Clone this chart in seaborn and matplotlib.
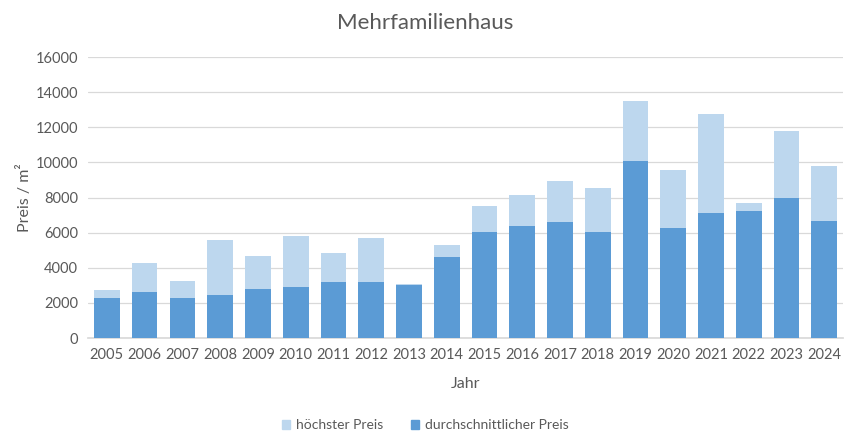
import pandas as pd
import matplotlib.pyplot as plt
import seaborn as sns
from matplotlib.patches import Patch

years = [str(y) for y in range(2005, 2025)]
hoechster_preis = [2750, 4300, 3250, 5600, 4700, 5800, 4850, 5700, 3100, 5300,
                   7500, 8150, 8950, 8550, 13500, 9550, 12750, 7700, 11800, 9800]
durchschnitt_preis = [2300, 2600, 2300, 2450, 2800, 2900, 3200, 3200, 3000, 4600,
                      6050, 6400, 6600, 6050, 10100, 6250, 7100, 7250, 8000, 6650]

df = pd.DataFrame({'Jahr': years, 'hoch': hoechster_preis, 'mittel': durchschnitt_preis})

light = '#BDD7EE'
dark = '#5B9BD5'
txt = '#595959'

sns.set_theme(style="white")
plt.rcParams['font.family'] = ['Lato', 'DejaVu Sans']

fig = plt.figure(figsize=(8.5, 4.43), dpi=100)
ax = fig.add_axes([0.1035, 0.237, 0.8885, 0.634])

# overlapping bars: highest price behind, average in front
sns.barplot(data=df, x='Jahr', y='hoch', color=light, width=0.68, saturation=1,
            linewidth=0, ax=ax, zorder=2)
sns.barplot(data=df, x='Jahr', y='mittel', color=dark, width=0.68, saturation=1,
            linewidth=0, ax=ax, zorder=3)

ax.set_ylim(0, 16000)
ax.set_yticks(range(0, 16001, 2000))
ax.set_xlim(-0.5, len(years) - 0.5)
ax.yaxis.grid(True, color='#D9D9D9', linewidth=0.9, zorder=0)
ax.set_axisbelow(True)
for s in ['top', 'right', 'left']:
    ax.spines[s].set_visible(False)
ax.spines['bottom'].set_color('#D9D9D9')
ax.tick_params(axis='both', length=0, labelsize=10.5, colors=txt, pad=7)

ax.set_xlabel('Jahr', fontsize=11.5, color=txt, labelpad=11)
ax.set_ylabel('Preis / m²', fontsize=11.5, color=txt, labelpad=3)
fig.text(0.5, 0.948, 'Mehrfamilienhaus', ha='center', va='center', fontsize=16, color=txt)

handles = [Patch(color=light, label='höchster Preis'), Patch(color=dark, label='durchschnittlicher Preis')]
fig.legend(handles=handles, loc='center', bbox_to_anchor=(0.5, 0.04), ncol=2, frameon=False,
           fontsize=10, labelcolor=txt, handlelength=0.6, handleheight=0.6,
           handletextpad=0.4, columnspacing=2.0)

plt.savefig('out.png', dpi=100)
